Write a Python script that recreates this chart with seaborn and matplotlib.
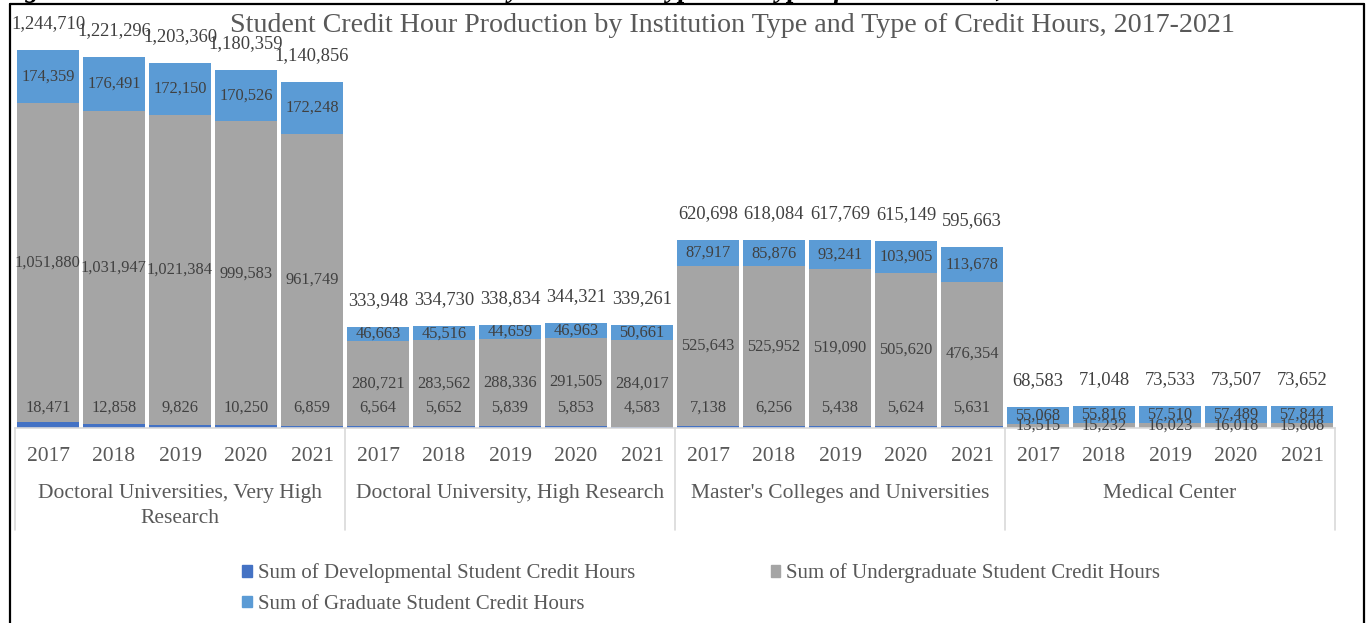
import numpy as np
import pandas as pd
import seaborn as sns
import matplotlib.pyplot as plt
from matplotlib.lines import Line2D
from matplotlib.patches import Patch
import matplotlib.transforms as mtransforms

# chart data
groups = ["Doctoral Universities, Very High\nResearch",
          "Doctoral University, High Research",
          "Master's Colleges and Universities",
          "Medical Center"]
years = ["2017", "2018", "2019", "2020", "2021"]
developmental = [18471, 12858, 9826, 10250, 6859,
                 6564, 5652, 5839, 5853, 4583,
                 7138, 6256, 5438, 5624, 5631,
                 0, 0, 0, 0, 0]
undergraduate = [1051880, 1031947, 1021384, 999583, 961749,
                 280721, 283562, 288336, 291505, 284017,
                 525643, 525952, 519090, 505620, 476354,
                 13515, 15232, 16023, 16018, 15808]
graduate = [174359, 176491, 172150, 170526, 172248,
            46663, 45516, 44659, 46963, 50661,
            87917, 85876, 93241, 103905, 113678,
            55068, 55816, 57510, 57489, 57844]
series_names = ["Sum of Developmental Student Credit Hours",
                "Sum of Undergraduate Student Credit Hours",
                "Sum of Graduate Student Credit Hours"]
title = "Student Credit Hour Production by Institution Type and Type of Credit Hours, 2017-2021"
caption = "Figure 10: Student Credit Hour Production by Institution Type and Type of Credit Hours, 2017-2021"

C_DEV, C_UG, C_GRAD = "#4472C4", "#A5A5A5", "#5B9BD5"
TXT = "#595959"
LBL = "#404040"

sns.set_theme(style="white")
plt.rcParams["font.family"] = ["Liberation Serif", "DejaVu Serif"]

df = pd.DataFrame({
    "group": np.repeat(range(len(groups)), len(years)),
    "year": years * len(groups),
    "dev": developmental,
    "ug": undergraduate,
    "grad": graduate,
})
df["bar"] = df["group"].astype(str) + "|" + df["year"]
df["dev_ug"] = df["dev"] + df["ug"]
df["total"] = df["dev_ug"] + df["grad"]
order = df["bar"].tolist()

W, H = 1369, 623
fig = plt.figure(figsize=(W / 100, H / 100), dpi=100)
ax = fig.add_axes([15 / W, 1 - 428 / H, 1320 / W, 388 / H])

# stacked bars by overlapping cumulative heights
for col, colr in [("total", C_GRAD), ("dev_ug", C_UG), ("dev", C_DEV)]:
    sns.barplot(data=df, x="bar", y=col, order=order, color=colr, saturation=1,
                width=0.93, errorbar=None, linewidth=0, ax=ax)

ax.set_xlim(-0.5, len(order) - 0.5)
ax.set_ylim(0, 1278000)
ax.set_xlabel("")
ax.set_ylabel("")
ax.set_yticks([])
for s in ["top", "left", "right"]:
    ax.spines[s].set_visible(False)
ax.spines["bottom"].set_color("#D9D9D9")
ax.spines["bottom"].set_linewidth(1.2)

ax.set_xticks(range(len(order)))
ax.set_xticklabels(df["year"], fontsize=15.5, color=TXT)
ax.tick_params(axis="x", length=0, pad=14)

# value labels
for i, r in df.iterrows():
    ax.text(i, r["dev_ug"] + r["grad"] / 2, f"{r['grad']:,}", ha="center", va="center",
            fontsize=11.8, color=LBL)
    ax.text(i, r["dev"] + r["ug"] / 2, f"{r['ug']:,}", ha="center", va="center",
            fontsize=11.8, color=LBL)
    if r["dev"] > 0:
        ax.annotate(f"{r['dev']:,}", (i, 0), xytext=(0, 14.5), textcoords="offset points",
                    ha="center", va="center", fontsize=11.8, color=LBL)
    ax.annotate(f"{r['total']:,}", (i, r["total"]), xytext=(0, 19), textcoords="offset points",
                ha="center", va="center", fontsize=13.3, color=LBL)

# multi-level category axis
trans = mtransforms.blended_transform_factory(ax.transData, ax.transAxes)
px = 1 / 388
for b in np.arange(-0.5, len(order), len(years)):
    ax.plot([b, b], [0, -102 * px], transform=trans, color="#D9D9D9", lw=1.2, clip_on=False)
for g, name in enumerate(groups):
    ax.text(g * len(years) + (len(years) - 1) / 2, -56 * px, name, transform=trans,
            ha="center", va="top", fontsize=15.5, color=TXT, linespacing=1.42)

fig.text(732 / W, 1 - 25 / H, title, ha="center", va="center", fontsize=20.2, color=TXT)

# cropped document caption and frame
fig.text(0, 1 + 3 / H, caption, ha="left", va="baseline", fontsize=19.5,
         fontweight="bold", fontstyle="italic", color="black")
frame = dict(color="black", lw=1.6, transform=fig.transFigure)
fig.add_artist(Line2D([10 / W, 10 / W], [0, 1 - 4 / H], **frame))
fig.add_artist(Line2D([10 / W, 1364 / W], [1 - 4 / H, 1 - 4 / H], **frame))
fig.add_artist(Line2D([1364 / W, 1364 / W], [0, 1 - 4 / H], **frame))

handles = [Patch(color=C_DEV, label=series_names[0]),
           Patch(color=C_GRAD, label=series_names[2]),
           Patch(color=C_UG, label=series_names[1])]
fig.legend(handles=handles, ncol=2, loc="upper left", bbox_to_anchor=(232 / W, 1 - 553 / H),
           frameon=False, fontsize=15.0, labelcolor=TXT, handlelength=0.45, handleheight=0.45,
           handletextpad=0.3, columnspacing=6.5, labelspacing=0.55, borderpad=0)

fig.savefig("out.png", dpi=100)
